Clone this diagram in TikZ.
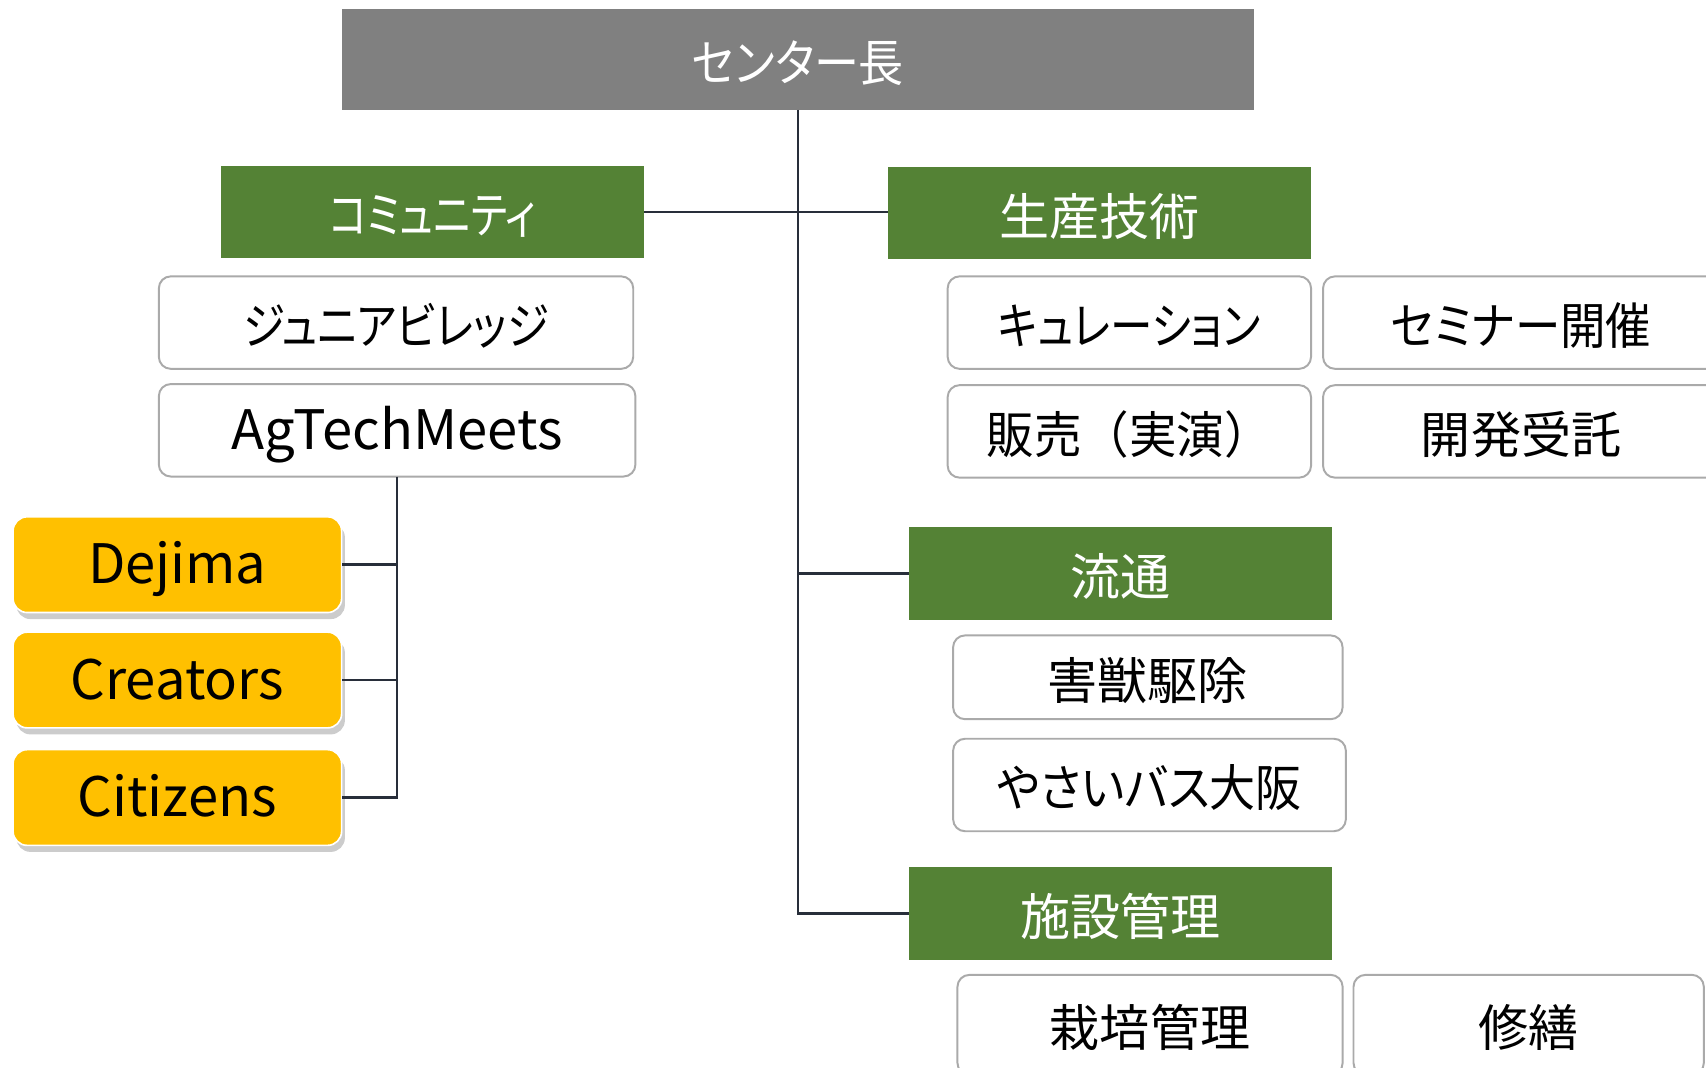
\documentclass[tikz,border=0pt]{standalone}
\usepackage{fontspec}
\setmainfont{Noto Sans CJK JP}[RawFeature={+palt}]
\newfontfamily\jpfull{Noto Sans CJK JP}
\newcommand{\sqz}[2]{\scalebox{#1}[1]{#2}}
\usetikzlibrary{shadows}
\definecolor{topgray}{RGB}{128,128,128}
\definecolor{hdrgreen}{RGB}{84,130,53}
\definecolor{itemyellow}{RGB}{255,192,0}
\definecolor{itemborder}{RGB}{170,170,170}
\definecolor{linkcol}{RGB}{40,46,58}
\tikzset{
  base/.style={inner sep=0pt, outer sep=0pt, font=\fontsize{46}{52}\selectfont, text height=41pt, text depth=1pt},
  latin/.style={font=\fontsize{50}{56}\selectfont, text height=36pt, text depth=1pt},
  topbox/.style={base, fill=topgray, text=white, minimum width=839pt, minimum height=93pt},
  hdr/.style={base, fill=hdrgreen, text=white, minimum width=389pt, minimum height=85pt},
  item/.style={base, draw=itemborder, line width=1.8pt, fill=white, text=black, rounded corners=11pt, minimum height=85pt},
  ybox/.style={base, latin, draw=white, line width=1.5pt, fill=itemyellow, text=black, rounded corners=13pt,
     minimum width=302pt, minimum height=88pt,
     drop shadow={shadow xshift=3pt, shadow yshift=-6pt, opacity=0.2, fill=black}},
  link/.style={draw=linkcol, line width=2.4pt}
}
\begin{document}
\begin{tikzpicture}[x=1pt,y=-1pt]
\useasboundingbox (0,0) rectangle (1568,981);
\clip (0,0) rectangle (1568,981);
\fill[white] (0,0) rectangle (1568,981);
% top
\node[topbox] (top) at (733.5,54.5) {\sqz{0.9}{センター長}};
% headers
\node[hdr] (kom) at (397.5,195) {\sqz{0.8}{コミュニティ}};
\node[hdr] (sei) at (1010.5,196) {生産技術};
\node[hdr] (ryu) at (1029.5,527) {流通};
\node[hdr] (shi) at (1029.5,839.5) {施設管理};
% community items
\node[item, minimum width=436pt] (jun) at (364,296.5) {\sqz{0.85}{ジュニアビレッジ}};
\node[item, latin, minimum width=438pt] (agt) at (365,395.5) {AgTechMeets};
\node[ybox] (dej) at (163,519) {Dejima};
\node[ybox] (cre) at (163,625) {Creators};
\node[ybox] (cit) at (163,733) {Citizens};
% production items
\node[item, minimum width=334pt] (cur) at (1038,296.5) {\sqz{0.85}{キュレーション}};
\node[item, minimum width=364pt] (sem) at (1398,296.5) {\sqz{0.91}{セミナー開催}};
\node[item, minimum width=334pt] (han) at (1038,396.5) {\sqz{0.95}{\jpfull 販売（実演）}};
\node[item, minimum width=364pt] (kai) at (1398,396.5) {開発受託};
% distribution items
\node[item, minimum width=358pt, minimum height=77pt] (gai) at (1055,622.5) {害獣駆除};
\node[item, minimum width=361pt] (yas) at (1056.5,721.5) {\sqz{0.92}{やさいバス大阪}};
% facility items
\node[item, minimum width=354pt, minimum height=92pt] (sai) at (1057,942) {栽培管理};
\node[item, minimum width=322pt, minimum height=92pt] (shu) at (1405,942) {修繕};
% connectors
\draw[link] (top.south) -- (top.south |- shi.west) -- (shi.west);
\draw[link] (top.south |- ryu.west) -- (ryu.west);
\draw[link] (kom.east) -- (kom.east -| sei.west);
\draw[link] (agt.south) |- (cit.east);
\draw[link] (agt.south |- dej.east) -- (dej.east);
\draw[link] (agt.south |- cre.east) -- (cre.east);
\end{tikzpicture}
\end{document}
